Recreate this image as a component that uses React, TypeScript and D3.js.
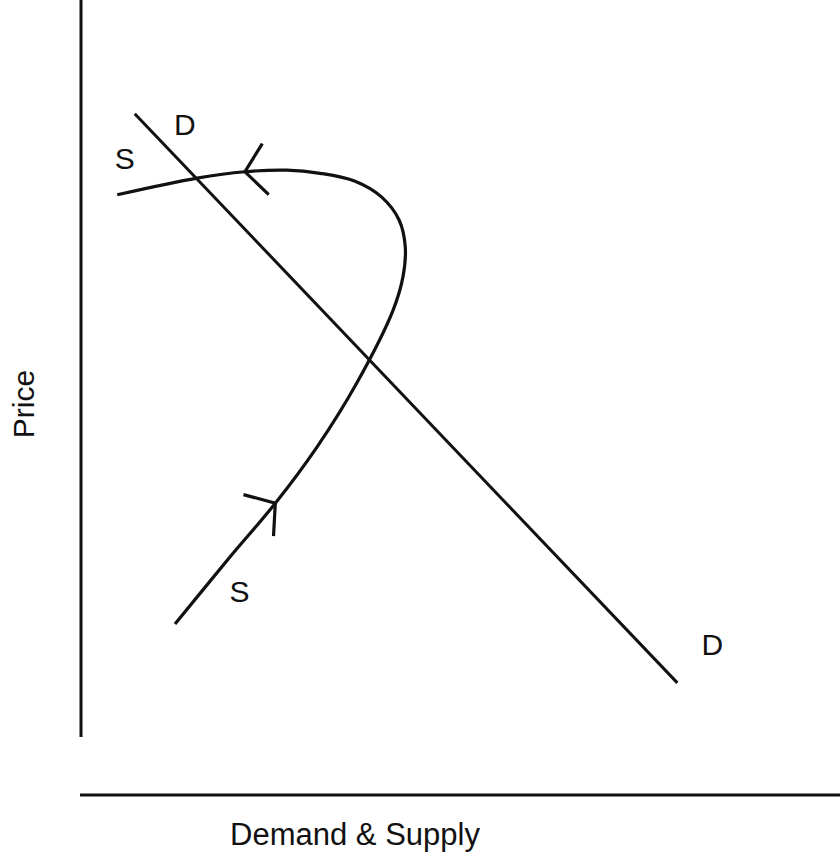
import React from 'react';
import * as d3 from 'd3';

const width = 840;
const height = 861;

// axis frame (quantity along x, price along y)
const xDomain = [0, 10];
const yDomain = [0, 10];

// demand line: two end points [quantity, price]
const demandLine: [number, number][] = [
  [0.72, 8.57],
  [7.86, 1.41],
];

// supply curve, bending back on itself
const supplyCurve: [number, number][] = [
  [1.25, 2.15],
  [1.97, 2.99],
  [2.57, 3.67],
  [3.12, 4.38],
  [3.64, 5.18],
  [4.12, 6.1],
  [4.25, 6.52],
  [4.28, 6.89],
  [4.2, 7.23],
  [3.97, 7.52],
  [3.62, 7.72],
  [3.16, 7.82],
  [2.72, 7.86],
  [2.17, 7.84],
  [1.54, 7.76],
  [0.49, 7.55],
];

// arrow heads on the supply curve: point index and a small tilt (deg)
const arrows = [
  { at: 2, tilt: 14 },
  { at: 13, tilt: -5 },
];

const curveLabels = [
  { text: 'S', q: 0.59, p: 7.88 },
  { text: 'D', q: 1.38, p: 8.3 },
  { text: 'S', q: 2.1, p: 2.43 },
  { text: 'D', q: 8.32, p: 1.76 },
];

const xTitle = 'Demand & Supply';
const yTitle = 'Price';

const x = d3.scaleLinear().domain(xDomain).range([80, 840]);
const y = d3.scaleLinear().domain(yDomain).range([795, 0]);

const line = d3
  .line<[number, number]>()
  .x((d) => x(d[0]))
  .y((d) => y(d[1]));

const curve = d3
  .line<[number, number]>()
  .x((d) => x(d[0]))
  .y((d) => y(d[1]))
  .curve(d3.curveCatmullRom.alpha(0.5));

function arrowHead(i: number, tilt: number) {
  const tip = supplyCurve[i];
  const prev = supplyCurve[i - 1];
  const tx = x(tip[0]);
  const ty = y(tip[1]);
  const ang = Math.atan2(y(prev[1]) - ty, x(prev[0]) - tx) + (tilt * Math.PI) / 180;
  const len = 33;
  const spread = (51 * Math.PI) / 180;
  const a = [tx + len * Math.cos(ang + spread), ty + len * Math.sin(ang + spread)];
  const b = [tx + len * Math.cos(ang - spread), ty + len * Math.sin(ang - spread)];
  return `M${a[0]},${a[1]}L${tx},${ty}L${b[0]},${b[1]}`;
}

export default function App() {
  const font = '"Liberation Sans", Arial, sans-serif';
  const ink = '#111';
  return (
    <svg
      width={width}
      height={height}
      style={{ position: 'absolute', left: 0, top: 0, background: '#fff' }}
    >
      {/* axes */}
      <line x1={x(0) + 1} x2={x(0) + 1} y1={0} y2={737} stroke={ink} strokeWidth={3} />
      <line x1={x(0)} x2={width} y1={y(0)} y2={y(0)} stroke={ink} strokeWidth={3} />

      <path d={line(demandLine) || ''} fill="none" stroke={ink} strokeWidth={3} />
      <path d={curve(supplyCurve) || ''} fill="none" stroke={ink} strokeWidth={3.2} />
      {arrows.map((a) => (
        <path
          key={a.at}
          d={arrowHead(a.at, a.tilt)}
          fill="none"
          stroke={ink}
          strokeWidth={3.2}
        />
      ))}

      {curveLabels.map((l, i) => (
        <text
          key={i}
          x={x(l.q)}
          y={y(l.p)}
          textAnchor="middle"
          fontFamily={font}
          fontSize={30}
          fill={ink}
        >
          {l.text}
        </text>
      ))}

      <text x={355} y={845} textAnchor="middle" fontFamily={font} fontSize={31} fill={ink}>
        {xTitle}
      </text>
      <text
        transform={`translate(34,404) rotate(-90)`}
        textAnchor="middle"
        fontFamily={font}
        fontSize={30}
        fill={ink}
      >
        {yTitle}
      </text>
    </svg>
  );
}
